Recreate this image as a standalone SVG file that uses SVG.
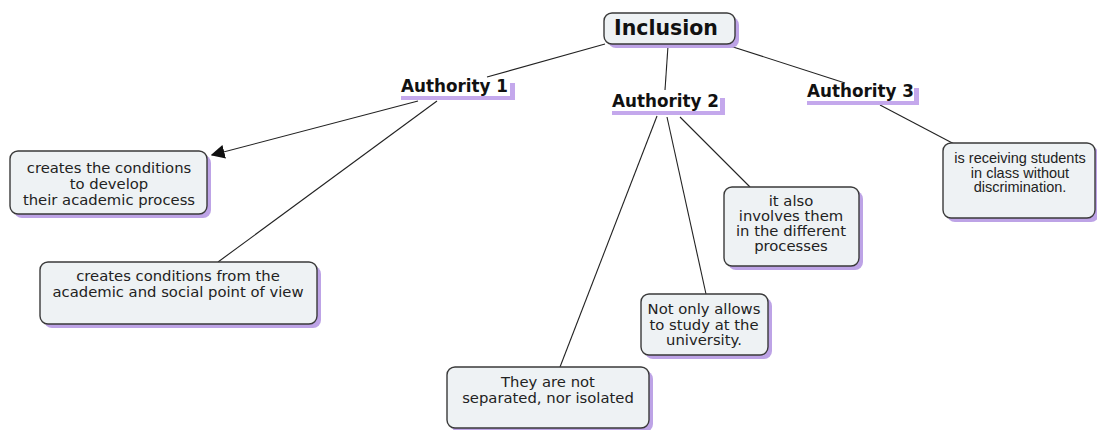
<svg xmlns="http://www.w3.org/2000/svg" width="1097" height="430" viewBox="0 0 1097 430">
  <style>
    .box { fill: #eef2f4; stroke: #3a3a3a; stroke-width: 1.4; }
    .shadow { fill: #bda3e6; }
    .bar { fill: #c4a8ec; }
    .link { stroke: #222; stroke-width: 1.1; fill: none; }
    .t { font-family: "DejaVu Sans", Verdana, sans-serif; font-size: 14.8px; fill: #222; text-anchor: middle; }
    .ta { font-family: "Liberation Sans", Arial, sans-serif; font-size: 14.5px; fill: #222; text-anchor: middle; }
    .h { font-family: "DejaVu Sans", Verdana, sans-serif; font-weight: bold; fill: #111; }
  </style>
  <defs>
    <marker id="arrow" viewBox="0 0 10 10" refX="9" refY="5" markerWidth="14" markerHeight="14" markerUnits="userSpaceOnUse" orient="auto">
      <path d="M0,0 L10,5 L0,10 z" fill="#111"/>
    </marker>
  </defs>
  <rect width="1097" height="430" fill="#ffffff"/>

  <g id="connectors">
    <line class="link" x1="605" y1="44" x2="487" y2="77"/>
    <line class="link" x1="668" y1="46" x2="665" y2="90"/>
    <line class="link" x1="730" y1="46" x2="845" y2="83"/>
    <line class="link" x1="418" y1="101" x2="212" y2="155" marker-end="url(#arrow)"/>
    <line class="link" x1="437" y1="101" x2="218" y2="262"/>
    <line class="link" x1="657" y1="116" x2="560" y2="367"/>
    <line class="link" x1="667" y1="117" x2="706" y2="294"/>
    <line class="link" x1="680" y1="117" x2="750" y2="187"/>
    <line class="link" x1="880" y1="105" x2="958" y2="146"/>
  </g>

  <g id="inclusion">
    <rect class="shadow" x="608" y="17" width="131" height="31" rx="8"/>
    <rect class="box" x="604" y="13" width="131" height="31" rx="8"/>
    <text class="h" x="666" y="35" font-size="20.5" text-anchor="middle">Inclusion</text>
  </g>

  <g id="authority1">
    <rect class="bar" x="401" y="96" width="114" height="4"/>
    <rect class="bar" x="510" y="83" width="5" height="17"/>
    <text class="h" x="401" y="92" font-size="16.8">Authority 1</text>
  </g>

  <g id="authority2">
    <rect class="bar" x="612" y="111" width="113" height="4"/>
    <rect class="bar" x="720" y="98" width="5" height="17"/>
    <text class="h" x="612" y="107" font-size="16.8">Authority 2</text>
  </g>

  <g id="authority3">
    <rect class="bar" x="807" y="101" width="112" height="4"/>
    <rect class="bar" x="914" y="88" width="5" height="17"/>
    <text class="h" x="807" y="97" font-size="16.8">Authority 3</text>
  </g>

  <g id="develop-process">
    <rect class="shadow" x="14" y="155" width="197" height="63" rx="8"/>
    <rect class="box" x="10" y="151" width="197" height="63" rx="8"/>
    <text class="t" x="109" y="173">creates the conditions</text>
    <text class="t" x="109" y="189">to  develop</text>
    <text class="t" x="109" y="205">their academic process</text>
  </g>

  <g id="academic-social">
    <rect class="shadow" x="44" y="266" width="277" height="62" rx="8"/>
    <rect class="box" x="40" y="262" width="277" height="62" rx="8"/>
    <text class="t" x="178" y="281">creates conditions from the</text>
    <text class="t" x="178" y="297">academic and social point of view</text>
  </g>

  <g id="involves">
    <rect class="shadow" x="728" y="191" width="135" height="79" rx="8"/>
    <rect class="box" x="724" y="187" width="135" height="79" rx="8"/>
    <text class="t" x="791" y="206">it also</text>
    <text class="t" x="791" y="221">involves them</text>
    <text class="t" x="791" y="236">in the different</text>
    <text class="t" x="791" y="251">processes</text>
  </g>

  <g id="receiving">
    <rect class="shadow" x="947" y="147" width="152" height="75" rx="8"/>
    <rect class="box" x="943" y="143" width="152" height="75" rx="8"/>
    <text class="ta" x="1020" y="163">is receiving students</text>
    <text class="ta" x="1020" y="178">in class without</text>
    <text class="ta" x="1020" y="192">discrimination.</text>
  </g>

  <g id="allows-study">
    <rect class="shadow" x="645" y="298" width="127" height="61" rx="8"/>
    <rect class="box" x="641" y="294" width="127" height="61" rx="8"/>
    <text class="t" x="704" y="314">Not only allows</text>
    <text class="t" x="704" y="330">to study at the</text>
    <text class="t" x="704" y="345">university.</text>
  </g>

  <g id="not-isolated">
    <rect class="shadow" x="451" y="371" width="202" height="61" rx="8"/>
    <rect class="box" x="447" y="367" width="202" height="61" rx="8"/>
    <text class="t" x="548" y="387">They are not</text>
    <text class="t" x="548" y="403">separated, nor isolated</text>
  </g>
</svg>
